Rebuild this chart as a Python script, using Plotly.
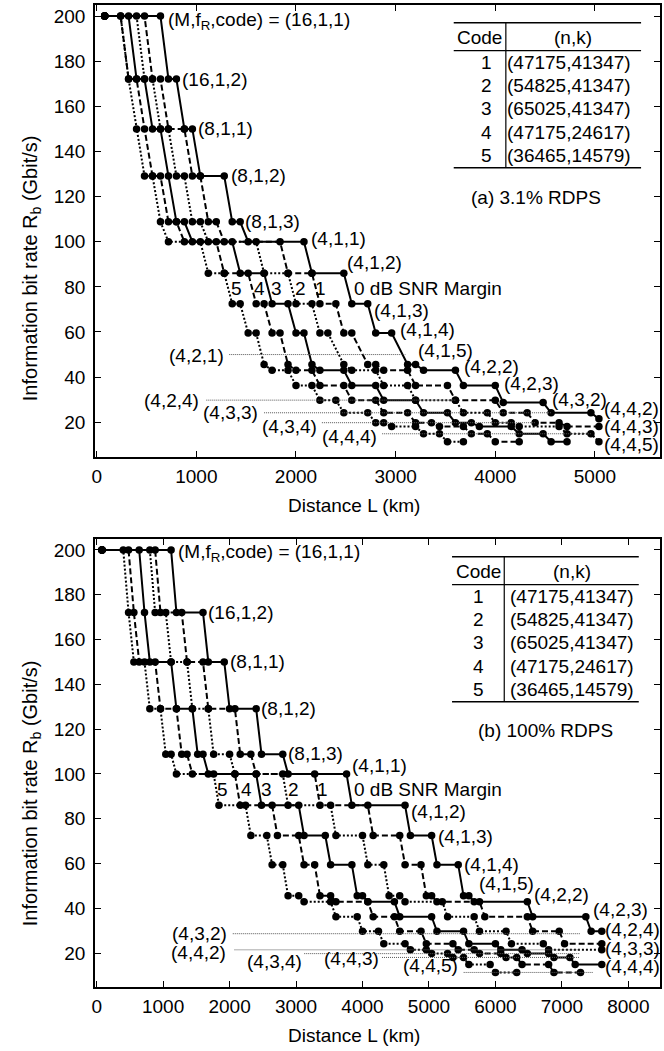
import plotly.graph_objects as go

# ---------------- data: steps (rate Gbit/s, from km, to km) ----------------
# Panel (a) 3.1% RDPS, curves for SNR margin 0..5 dB
top_m0 = [(200, 80, 640), (172.1, 720, 800), (150, 880, 960), (129.1, 1040, 1280), (108.8, 1360, 1440),
          (100, 1520, 2080), (86, 2160, 2480), (72.5, 2560, 2720), (59.5, 2800, 2960), (45.6, 3120, 3200),
          (43, 3280, 3600), (36.3, 3680, 4000), (28.7, 4080, 4480), (24.2, 4560, 4960), (21.5, 5040, 5040)]
top_m1 = [(200, 80, 480), (172.1, 560, 640), (150, 720, 880), (129.1, 960, 1040), (108.8, 1120, 1200),
          (100, 1280, 1840), (86, 1920, 2160), (72.5, 2240, 2400), (59.5, 2480, 2560), (45.6, 2720, 2800),
          (43, 2880, 3120), (36.3, 3200, 3520), (29.8, 3600, 4000), (24.2, 4080, 4320), (19.8, 4400, 4640),
          (18.1, 4720, 5040)]
top_m2 = [(200, 80, 400), (172.1, 480, 560), (150, 640, 720), (129.1, 800, 880), (108.8, 960, 1040),
          (100, 1120, 1600), (86, 1680, 1920), (72.5, 2000, 2160), (59.5, 2240, 2320), (45.6, 2480, 2480),
          (43, 2560, 2800), (36.3, 2880, 3120), (29.8, 3200, 3600), (24.2, 3680, 3920), (19.8, 4000, 4160),
          (18.1, 4240, 4640), (14.9, 4720, 4960), (11.4, 5040, 5040)]
top_m3 = [(200, 80, 320), (172.1, 400, 480), (150, 560, 640), (129.1, 720, 720), (108.8, 800, 880),
          (100, 960, 1360), (86, 1440, 1680), (72.5, 1760, 1920), (59.5, 2000, 2080), (45.6, 2160, 2160),
          (43, 2240, 2480), (36.3, 2560, 2800), (29.8, 2880, 3200), (24.2, 3280, 3520), (19.8, 3600, 3760),
          (18.1, 3840, 4160), (14.9, 4240, 4480), (11.4, 4560, 4720)]
top_m4 = [(200, 80, 240), (172.1, 320, 400), (150, 480, 480), (129.1, 560, 640), (108.8, 720, 800),
          (100, 880, 1200), (86, 1280, 1520), (72.5, 1600, 1680), (59.5, 1760, 1840), (45.6, 1920, 1920),
          (43, 2000, 2160), (36.3, 2240, 2480), (29.8, 2560, 2800), (24.2, 2880, 3120), (19.8, 3200, 3360),
          (18.1, 3440, 3680), (14.9, 3760, 3920), (11.4, 4000, 4240)]
top_m5 = [(200, 80, 240), (172.1, 320, 320), (150, 400, 400), (129.1, 480, 560), (108.8, 640, 640),
          (100, 720, 1040), (86, 1120, 1280), (72.5, 1360, 1440), (59.5, 1520, 1600), (45.6, 1680, 1680),
          (43, 1760, 1920), (36.3, 2000, 2160), (29.8, 2240, 2400), (24.2, 2480, 2720), (19.8, 2800, 2880),
          (18.1, 2960, 3200), (14.9, 3280, 3440), (11.4, 3520, 3680)]

# Panel (b) 100% RDPS
bot_m0 = [(200, 80, 1120), (172.1, 1200, 1600), (150, 1680, 1920), (129.1, 2000, 2400), (108.8, 2480, 2800),
          (100, 2880, 3760), (86, 3840, 4640), (72.5, 4720, 5040), (59.5, 5120, 5440), (45.6, 5520, 5600),
          (43, 5680, 6480), (36.3, 6560, 7360), (29.8, 7440, 7600)]
bot_m1 = [(200, 80, 880), (172.1, 960, 1280), (150, 1360, 1600), (129.1, 1680, 2080), (108.8, 2160, 2320),
          (100, 2400, 3280), (86, 3360, 4080), (72.5, 4160, 4560), (59.5, 4640, 4880), (45.6, 4960, 5040),
          (43, 5120, 5760), (36.3, 5840, 6480), (29.8, 6560, 6960), (24.2, 7040, 7600)]
bot_m2 = [(200, 80, 800), (172.1, 880, 1040), (150, 1120, 1360), (129.1, 1440, 1680), (108.8, 1760, 2000),
          (100, 2080, 2800), (86, 2880, 3520), (72.5, 3600, 4000), (59.5, 4080, 4320), (45.6, 4400, 4560),
          (43, 4640, 5200), (36.3, 5280, 5680), (29.8, 5760, 6160), (24.2, 6240, 6720), (21.5, 6800, 7600)]
bot_m3 = [(200, 80, 640), (172.1, 720, 720), (150, 800, 1120), (129.1, 1200, 1440), (108.8, 1520, 1600),
          (100, 1680, 2400), (86, 2480, 3040), (72.5, 3120, 3440), (59.5, 3520, 3840), (45.6, 3920, 4000),
          (43, 4080, 4480), (36.3, 4560, 5040), (29.8, 5120, 5520), (24.2, 5600, 6000), (21.5, 6080, 6400),
          (19.8, 6480, 6800), (18.1, 6880, 7120), (14.9, 7200, 7600)]
bot_m4 = [(200, 80, 480), (172.1, 560, 560), (150, 640, 880), (129.1, 960, 1200), (108.8, 1280, 1360),
          (100, 1440, 2080), (86, 2160, 2640), (72.5, 2720, 3040), (59.5, 3120, 3280), (45.6, 3360, 3520),
          (43, 3600, 4080), (36.3, 4160, 4480), (29.8, 4560, 4880), (24.2, 4960, 5360), (21.5, 5440, 5680),
          (19.8, 5760, 6080), (18.1, 6160, 6320), (14.9, 6400, 6800), (11.4, 6880, 7280)]
bot_m5 = [(200, 80, 400), (172.1, 480, 480), (150, 560, 720), (129.1, 800, 960), (108.8, 1040, 1120),
          (100, 1200, 1760), (86, 1840, 2240), (72.5, 2320, 2560), (59.5, 2640, 2800), (45.6, 2880, 3040),
          (43, 3120, 3520), (36.3, 3600, 3920), (29.8, 4000, 4240), (24.2, 4320, 4640), (21.5, 4720, 4960),
          (19.8, 5040, 5280), (18.1, 5360, 5520), (14.9, 5600, 5920), (11.4, 6000, 6320)]

x_ticks_top = [0, 1000, 2000, 3000, 4000, 5000]
x_ticks_bot = [0, 1000, 2000, 3000, 4000, 5000, 6000, 7000, 8000]
y_ticks = [20, 40, 60, 80, 100, 120, 140, 160, 180, 200]

codes = ["1", "2", "3", "4", "5"]
nk = ["(47175,41347)", "(54825,41347)", "(65025,41347)", "(47175,24617)", "(36465,14579)"]

# labels along curves: (text, x km, y Gbit/s)
top_labels_left = [("(M,f<sub>R</sub>,code) = (16,1,1)", 700, 198), ("(16,1,2)", 840, 172), ("(8,1,1)", 1000, 150),
                   ("(8,1,2)", 1326, 129.5), ("(8,1,3)", 1473, 109), ("(4,1,1)", 2133, 101.5),
                   ("(4,1,2)", 2493, 90.7), ("0 dB SNR Margin", 2560, 79.4), ("(4,1,3)", 2760, 69.7),
                   ("(4,1,4)", 3026, 60.9), ("(4,1,5)", 3206, 52), ("(4,2,2)", 3666, 44.6),
                   ("(4,2,3)", 4066, 37), ("(4,3,2)", 4550, 29.9), ("(4,4,2)", 5075, 26.2),
                   ("(4,4,3)", 5075, 17.9), ("(4,4,5)", 5075, 10.2)]
top_labels_right = [("(4,2,1)", 1300, 49.8), ("(4,2,4)", 1050, 29.5), ("(4,3,3)", 1643, 24.2),
                    ("(4,3,4)", 2226, 18), ("(4,4,4)", 2833, 13.6)]
top_margins = [("5", 1400), ("4", 1633), ("3", 1806), ("2", 2043), ("1", 2250)]
top_refs = [(50, 1330, 3100), (29.8, 1100, 3600), (24.2, 1680, 4560), (19.8, 2260, 4400), (14.9, 2865, 4960)]

bot_labels_left = [("(M,f<sub>R</sub>,code) = (16,1,1)", 1200, 198.6), ("(16,1,2)", 1650, 172), ("(8,1,1)", 1973, 150),
                   ("(8,1,2)", 2438, 129.3), ("(8,1,3)", 2849, 109.2), ("(4,1,1)", 3808, 104),
                   ("0 dB SNR Margin", 3838, 93.2), ("(4,1,2)", 4697, 83.2), ("(4,1,3)", 5106, 72.3),
                   ("(4,1,4)", 5496, 59.4), ("(4,1,5)", 5721, 51.2), ("(4,2,2)", 6546, 46),
                   ("(4,2,3)", 7436, 39.3), ("(4,2,4)", 7625, 30.4), ("(4,3,3)", 7625, 22.2),
                   ("(4,4,4)", 7625, 13.9)]
bot_labels_right = [("(4,3,2)", 1998, 28.9), ("(4,4,2)", 1973, 20.3), ("(4,4,5)", 5472, 14.5)]
bot_labels_center = [("(4,3,4)", 2673, 16.2), ("(4,4,3)", 3835, 17.6)]
bot_margins = [("5", 1889), ("4", 2249), ("3", 2549), ("2", 2963), ("1", 3397)]
bot_refs = [(28.7, 2048, 7270), (21.5, 2074, 7270), (19.8, 3123, 7270), (18.1, 4293, 7270), (11.4, 5522, 7470)]

# ---------------- figure ----------------
FONT = "Liberation Sans, Arial, sans-serif"
FS = 19
W, H = 664, 1051
ML, MR, MT, MB = 95, 2, 5, 64
PW, PH = W - ML - MR, H - MT - MB


def paper_x(px):
    return (px - ML) / PW


def paper_y(py):
    return (H - MB - py) / PH


dashes = ["solid", "6px,3px", "2px,2px", "solid", "6px,3px", "2px,2px"]

fig = go.Figure()


def add_curve(steps, dash, xa, ya):
    xs, ys, mx, my = [], [], [], []
    for r, a, b in steps:
        xs += [a, b]
        ys += [r, r]
        mx.append(a)
        my.append(r)
        if b != a:
            mx.append(b)
            my.append(r)
    fig.add_trace(go.Scatter(x=xs, y=ys, mode="lines", xaxis=xa, yaxis=ya,
                             line=dict(color="black", width=2, dash=dash),
                             hoverinfo="skip", showlegend=False))
    fig.add_trace(go.Scatter(x=mx, y=my, mode="markers", xaxis=xa, yaxis=ya,
                             marker=dict(color="black", size=7.5),
                             hoverinfo="skip", showlegend=False))


top_curves = [top_m0, top_m1, top_m2, top_m3, top_m4, top_m5]
bot_curves = [bot_m0, bot_m1, bot_m2, bot_m3, bot_m4, bot_m5]
for k in range(5, -1, -1):
    add_curve(top_curves[k], dashes[k], "x", "y")
    add_curve(bot_curves[k], dashes[k], "x2", "y2")

ann = []
shapes = []


def label(text, x, y, xr, yr, xanchor="left", size=FS):
    ann.append(dict(text=text, x=x, y=y, xref=xr, yref=yr, xanchor=xanchor, yanchor="middle",
                    showarrow=False, font=dict(family=FONT, size=size, color="black")))


for t, x, y in top_labels_left:
    label(t, x, y, "x", "y", "left")
for t, x, y in top_labels_right:
    label(t, x, y, "x", "y", "right")
for t, x in top_margins:
    label(t, x, 79.4, "x", "y", "center")
for r, a, b in top_refs:
    shapes.append(dict(type="line", xref="x", yref="y", x0=a, x1=b, y0=r, y1=r,
                       line=dict(color="#555", width=1, dash="1px,1px")))

for t, x, y in bot_labels_left:
    label(t, x, y, "x2", "y2", "left")
for t, x, y in bot_labels_right:
    label(t, x, y, "x2", "y2", "right")
for t, x, y in bot_labels_center:
    label(t, x, y, "x2", "y2", "center")
for t, x in bot_margins:
    label(t, x, 92.9, "x2", "y2", "center")
for r, a, b in bot_refs:
    shapes.append(dict(type="line", xref="x2", yref="y2", x0=a, x1=b, y0=r, y1=r,
                       line=dict(color="#555", width=1, dash="1px,1px")))


def table(top, left, right, vline, code_x, nk_x, title, title_x, title_y):
    # geometry in pixels
    hdr_line = top + 28
    rows = [top + 39.5 + 23.3 * i for i in range(5)]
    bottom = top + 145
    for yy, wd in [(top, 1.5), (hdr_line, 1.2), (bottom, 1.5)]:
        shapes.append(dict(type="line", xref="paper", yref="paper", x0=paper_x(left), x1=paper_x(right),
                           y0=paper_y(yy), y1=paper_y(yy), line=dict(color="black", width=wd)))
    shapes.append(dict(type="line", xref="paper", yref="paper", x0=paper_x(vline), x1=paper_x(vline),
                       y0=paper_y(top), y1=paper_y(bottom), line=dict(color="black", width=1.2)))
    label("Code", paper_x((left + vline) / 2), paper_y(top + 15), "paper", "paper", "center")
    label("(n,k)", paper_x((vline + right) / 2), paper_y(top + 15), "paper", "paper", "center")
    for c, v, yy in zip(codes, nk, rows):
        label(c, paper_x(code_x), paper_y(yy), "paper", "paper", "center")
        label(v, paper_x(nk_x), paper_y(yy), "paper", "paper", "center")
    label(title, paper_x(title_x), paper_y(title_y), "paper", "paper", "center")


table(22.7, 455, 643, 507.3, 488, 571, "(a) 3.1% RDPS", 538, 197)
table(556.7, 453.3, 640.7, 505.7, 480, 574, "(b) 100% RDPS", 547, 730)

# axis titles
for py in (505, 1035):
    label("Distance L (km)", paper_x(355), paper_y(py), "paper", "paper", "center")
for py in (268, 793):
    ann.append(dict(text="Information bit rate R<sub>b</sub> (Gbit/s)", x=paper_x(31), y=paper_y(py),
                    xref="paper", yref="paper", xanchor="center", yanchor="middle", textangle=-90,
                    showarrow=False, font=dict(family=FONT, size=20, color="black")))

axis_common = dict(showgrid=False, zeroline=False, showline=True, linecolor="black", linewidth=1.5,
                   mirror="ticks", ticks="inside", ticklen=6, tickwidth=1.2, tickcolor="black",
                   tickfont=dict(family=FONT, size=FS, color="black"))

top_dom = [paper_y(457), 1.0]
bot_dom = [0.0, paper_y(539)]

fig.update_layout(
    width=W, height=H,
    margin=dict(l=ML, r=MR, t=MT, b=MB),
    paper_bgcolor="white", plot_bgcolor="white",
    showlegend=False, hovermode=False,
    xaxis=dict(domain=[0, 1], range=[-17, 5653], tickvals=x_ticks_top, anchor="y",
               ticklabelstandoff=1, **axis_common),
    yaxis=dict(domain=top_dom, range=[4.6, 204.9], tickvals=y_ticks, anchor="x",
               ticklabelstandoff=4, **axis_common),
    xaxis2=dict(domain=[0, 1], range=[-25, 8476], tickvals=x_ticks_bot, anchor="y2",
                ticklabelstandoff=1, **axis_common),
    yaxis2=dict(domain=bot_dom, range=[4.9, 204.9], tickvals=y_ticks, anchor="x2",
                ticklabelstandoff=4, **axis_common),
    annotations=ann,
    shapes=shapes,
)

fig.write_html("out.html", config={"displayModeBar": False},
               post_script="document.body.style.margin='0px';document.body.style.overflow='hidden';")
